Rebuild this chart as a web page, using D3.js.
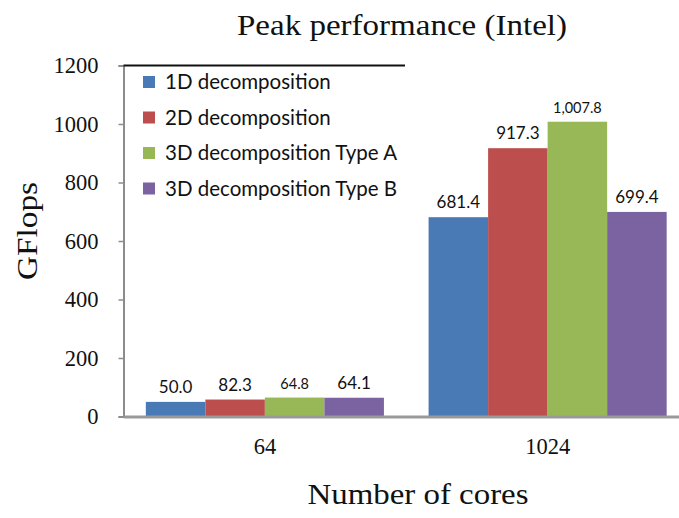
<!DOCTYPE html>
<html><head><meta charset="utf-8">
<script src="https://cdn.jsdelivr.net/npm/d3@7"></script>
<style>body{margin:0;background:#fff}svg{display:block}</style>
</head><body>
<svg id="c" width="679" height="518"></svg>
<script>
const categories = ["64", "1024"];
const seriesNames = ["1D decomposition", "2D decomposition", "3D decomposition Type A", "3D decomposition Type B"];
// bar heights as drawn in the picture
const values64 = [50.0, 58.0, 64.8, 64.1];
const values1024 = [681.4, 917.3, 1007.8, 699.4];
// data labels as printed
const labels64 = ["50.0", "82.3", "64.8", "64.1"];
const labels1024 = ["681.4", "917.3", "1,007.8", "699.4"];
const yTicks = [0, 200, 400, 600, 800, 1000, 1200];
const colors = ["#4a7ab5", "#bc4f4d", "#98b858", "#7b62a0"];
const labelSizes = [[17, 17, 14.5, 17], [17, 17, 14.5, 17]];

const svg = d3.select("#c");
const serif = "'Liberation Serif','Times New Roman',serif";
const sans = "Lato,'Open Sans',sans-serif";
const x0 = 123.5, x1 = 689, yTop = 65.5, yBot = 416.5;

const x = d3.scaleBand().domain(categories).range([x0, x1]).paddingInner(0.158).paddingOuter(0.079);
const xs = d3.scaleBand().domain(d3.range(4)).range([0, x.bandwidth()]);
const y = d3.scaleLinear().domain([0, 1200]).range([yBot, yTop]);

const rows = [values64, values1024];
const labs = [labels64, labels1024];

// bars
categories.forEach((c, ci) => {
  const g = svg.append("g").attr("transform", `translate(${x(c)},0)`);
  g.selectAll("rect").data(rows[ci]).join("rect")
    .attr("x", (d, i) => xs(i)).attr("width", xs.bandwidth())
    .attr("y", d => y(d)).attr("height", d => yBot - y(d))
    .attr("fill", (d, i) => colors[i]);
  g.selectAll("text").data(rows[ci]).join("text")
    .attr("x", (d, i) => xs(i) + xs.bandwidth() / 2)
    .attr("y", d => y(d) - 9)
    .attr("text-anchor", "middle")
    .attr("font-family", sans).attr("font-size", (d, i) => labelSizes[ci][i])
    .attr("fill", "#111")
    .text((d, i) => labs[ci][i]);
});

// y axis
const yAxis = d3.axisLeft(y).tickValues(yTicks).tickSize(5).tickPadding(20).tickFormat(d3.format("d"));
const ya = svg.append("g").attr("transform", `translate(${x0},0)`).call(yAxis);
ya.select(".domain").attr("stroke", "#8c8c8c").attr("stroke-width", 2);
ya.selectAll(".tick line").attr("stroke", "#8c8c8c").attr("stroke-width", 1.5);
ya.selectAll(".tick text").attr("font-family", serif).attr("font-size", 22.5).attr("fill", "#111");

// x axis
const xAxis = d3.axisBottom(x).tickSize(0).tickPadding(22);
const xa = svg.append("g").attr("transform", `translate(0,${yBot})`).call(xAxis);
xa.select(".domain").attr("stroke", "#999").attr("stroke-width", 3);
xa.selectAll(".tick text").attr("font-family", serif).attr("font-size", 22.5).attr("fill", "#111");

// top line
svg.append("line").attr("x1", x0).attr("x2", 405).attr("y1", yTop).attr("y2", yTop)
  .attr("stroke", "#111").attr("stroke-width", 2);

// legend
const lg = svg.append("g");
seriesNames.forEach((n, i) => {
  const cy = 82 + i * 35.5;
  lg.append("rect").attr("x", 143).attr("y", cy - 6).attr("width", 12).attr("height", 12).attr("fill", colors[i]);
  lg.append("text").attr("x", 165).attr("y", cy + 7).attr("font-family", sans).attr("font-size", 20.5)
    .attr("fill", "#111").text(n);
});

// titles
svg.append("text").attr("x", 402).attr("y", 35).attr("text-anchor", "middle")
  .attr("font-family", serif).attr("font-size", 29).attr("textLength", 330).attr("lengthAdjust", "spacingAndGlyphs")
  .attr("fill", "#111").text("Peak performance (Intel)");
svg.append("text").attr("x", 418).attr("y", 504).attr("text-anchor", "middle")
  .attr("font-family", serif).attr("font-size", 30).attr("textLength", 221).attr("lengthAdjust", "spacingAndGlyphs")
  .attr("fill", "#111").text("Number of cores");
svg.append("text").attr("transform", "translate(37,231) rotate(-90)").attr("text-anchor", "middle")
  .attr("font-family", serif).attr("font-size", 30).attr("textLength", 98).attr("lengthAdjust", "spacingAndGlyphs")
  .attr("fill", "#111").text("GFlops");
</script>
</body></html>
